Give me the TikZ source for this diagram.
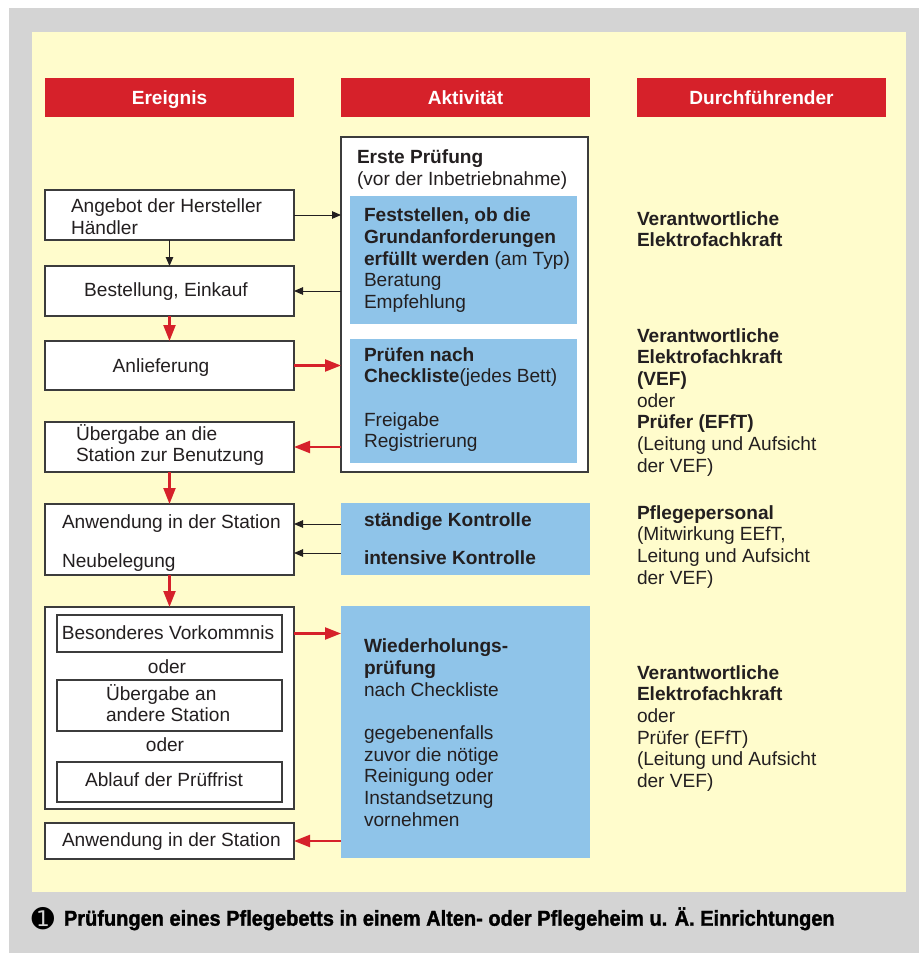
\documentclass[tikz,border=0pt]{standalone}
\usepackage{fontspec}
\setmainfont{Liberation Sans}
\newfontfamily\capfont[FakeStretch=0.93,FakeBold=1.5]{Liberation Sans}
\newfontfamily\dejavu{DejaVu Sans}
\usetikzlibrary{arrows.meta}
\definecolor{bggrey}{RGB}{212,212,212}
\definecolor{paper}{RGB}{255,252,204}
\definecolor{hdrred}{RGB}{214,33,42}
\definecolor{boxblue}{RGB}{143,196,233}
\definecolor{ink}{RGB}{35,31,32}
\definecolor{edge}{RGB}{60,60,60}
\begin{document}
\begin{tikzpicture}[x=1pt,y=-1pt,
  every node/.style={inner sep=0pt, outer sep=0pt, text=ink, font=\fontsize{19.1}{21.7}\selectfont},
  hdr/.style={fill=hdrred, anchor=north west, minimum width=249pt, minimum height=39pt, text height=14pt, text depth=0pt, text=white, font=\fontsize{19.1}{21.7}\selectfont\bfseries},
  evbox/.style={draw=edge, line width=1.3pt, fill=white, anchor=north west},
  bluebox/.style={fill=boxblue, anchor=north west},
  txt/.style={anchor=base west, align=left},
  ctxt/.style={anchor=base},
  blk/.style={draw=ink, line width=0.9pt, -{Triangle[length=9pt,width=7.5pt]}},
  redarr/.style={draw=hdrred, line width=2.2pt, -{Triangle[length=16pt,width=12pt]}},
]
\useasboundingbox (0,0) rectangle (919,953);
\fill[white] (0,0) rectangle (919,953);
\fill[bggrey] (9,8) rectangle (919,953);
\fill[paper] (32,32) rectangle (906,892);

% headers
\node[hdr] (h1) at (45,78) {Ereignis};
\node[hdr] (h2) at (341,78) {Aktivität};
\node[hdr] (h3) at (637,78) {Durchführender};

% event boxes
\node[evbox, minimum width=249pt, minimum height=50pt] (ang) at (45,190) {};
\node[evbox, minimum width=249pt, minimum height=50pt] (best) at (45,266) {};
\node[evbox, minimum width=249pt, minimum height=49pt] (anl) at (45,341) {};
\node[evbox, minimum width=249pt, minimum height=50pt] (ueb) at (45,422) {};
\node[evbox, minimum width=249pt, minimum height=71pt] (anw) at (45,504) {};
\node[evbox, minimum width=249pt, minimum height=202pt] (grp) at (45,607) {};
\node[evbox, minimum width=225pt, minimum height=37pt] (bes) at (57,615) {};
\node[evbox, minimum width=225pt, minimum height=51pt] (ueb2) at (57,680) {};
\node[evbox, minimum width=225pt, minimum height=40pt] (abl) at (57,762) {};
\node[evbox, minimum width=249pt, minimum height=36pt] (anw2) at (45,823) {};

% activity boxes
\node[evbox, minimum width=247pt, minimum height=335pt] (akt) at (341,137) {};
\node[bluebox, minimum width=227pt, minimum height=128pt] (b1) at (350,196) {};
\node[bluebox, minimum width=227pt, minimum height=124pt] (b2) at (350,339) {};
\node[bluebox, minimum width=249pt, minimum height=72pt] (b3) at (341,503) {};
\node[bluebox, minimum width=249pt, minimum height=252pt] (b4) at (341,606) {};

% event texts (base = baseline of last line)
\node[txt] (tang) at (71,234.2) {Angebot der Hersteller\\Händler};
\node[ctxt] (tbest) at (166,296.7) {Bestellung, Einkauf};
\node[ctxt] (tanl) at (161,372.7) {Anlieferung};
\node[txt] (tueb) at (76,461.7) {Übergabe an die\\Station zur Benutzung};
\node[txt] (tanw) at (62,528.3) {Anwendung in der Station};
\node[txt] (tneu) at (62,567.3) {Neubelegung};
\node[ctxt] (tbes) at (168,639.3) {Besonderes Vorkommnis};
\node[ctxt] (toder1) at (167,673.3) {oder};
\node[txt] (tueb2) at (106,721.7) {Übergabe an\\andere Station};
\node[ctxt] (toder2) at (165,751.7) {oder};
\node[ctxt] (tabl) at (164,786.7) {Ablauf der Prüffrist};
\node[txt] (tanw2) at (62,846.7) {Anwendung in der Station};

% activity texts
\node[txt] (takt) at (357,185.2) {\textbf{Erste Prüfung}\\(vor der Inbetriebnahme)};
\node[txt] (tb1) at (364,308.5) {\textbf{Feststellen, ob die}\\\textbf{Grundanforderungen}\\\textbf{erfüllt werden} (am Typ)\\Beratung\\Empfehlung};
\node[txt] (tb2) at (364,447.8) {\textbf{Prüfen nach}\\\textbf{Checkliste}(jedes Bett)\\[21.7pt]Freigabe\\Registrierung};
\node[txt] (tb3a) at (364,526) {\textbf{ständige Kontrolle}};
\node[txt] (tb3b) at (364,564) {\textbf{intensive Kontrolle}};
\node[txt] (tb4) at (364,826.3) {\textbf{Wiederholungs-}\\\textbf{prüfung}\\nach Checkliste\\[21.7pt]gegebenenfalls\\zuvor die nötige\\Reinigung oder\\Instandsetzung\\vornehmen};

% performer texts
\node[txt] (p1) at (637,246.7) {\textbf{Verantwortliche}\\\textbf{Elektrofachkraft}};
\node[txt] (p2) at (637,472.2) {\textbf{Verantwortliche}\\\textbf{Elektrofachkraft}\\\textbf{(VEF)}\\oder\\\textbf{Prüfer (EFfT)}\\(Leitung und Aufsicht\\der VEF)};
\node[txt] (p3) at (637,584.1) {\textbf{Pflegepersonal}\\(Mitwirkung EEfT,\\Leitung und Aufsicht\\der VEF)};
\node[txt] (p4) at (637,787.5) {\textbf{Verantwortliche}\\\textbf{Elektrofachkraft}\\oder\\Prüfer (EFfT)\\(Leitung und Aufsicht\\der VEF)};

% caption
\node[anchor=base west, text=black] (cnum) at (31.5,928.5) {\dejavu\fontsize{27}{27}\selectfont ➊};
\node[anchor=base west, text=black] (cap) at (64,925.7) {\capfont\bfseries\fontsize{21.5}{24}\selectfont Prüfungen eines Pflegebetts in einem Alten- oder Pflegeheim u. Ä. Einrichtungen};

% connectors
\coordinate (k1) at (341,524);
\coordinate (k2) at (341,553);
\draw[blk] (ang.east) -- (akt.west |- ang.east);
\draw[blk] (ang.south) -- (best.north);
\draw[blk] (akt.west |- best.east) -- (best.east);
\draw[redarr] (best.south) -- (anl.north);
\draw[redarr] (anl.east) -- (akt.west |- anl.east);
\draw[redarr] (akt.west |- ueb.east) -- (ueb.east);
\draw[redarr] (ueb.south) -- (anw.north);
\draw[blk] (k1) -- (anw.east |- k1);
\draw[blk] (k2) -- (anw.east |- k2);
\draw[redarr] (anw.south) -- (grp.north);
\draw[redarr] (grp.east |- bes.east) -- (b4.west |- bes.east);
\draw[redarr] (b4.west |- anw2.east) -- (anw2.east);
\end{tikzpicture}
\end{document}
